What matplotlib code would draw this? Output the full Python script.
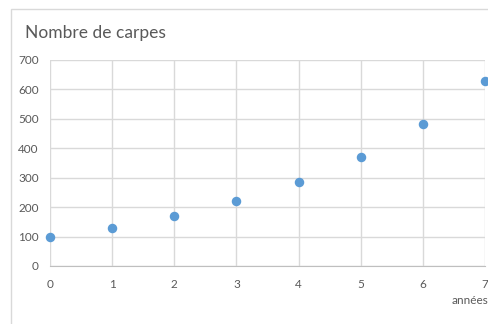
import matplotlib.pyplot as plt
from matplotlib.patches import Rectangle

annees = [0, 1, 2, 3, 4, 5, 6, 7]
carpes = [100, 130, 169, 220, 286, 371, 483, 627]
y_ticks = [0, 100, 200, 300, 400, 500, 600, 700]

plt.rcParams['font.family'] = ['Lato', 'DejaVu Sans']
W, H = 489, 324
fig = plt.figure(figsize=(W / 100, H / 100), dpi=100)

# chart frame, cut at the right and bottom edges
fig.patches.append(Rectangle((11 / W, -0.1), 1.0, 1 - 9 / H + 0.1,
                             transform=fig.transFigure, fill=False,
                             edgecolor='#d9d9d9', linewidth=1.0))

ax = fig.add_axes([50 / W, 1 - 266 / H, 435 / W, 206 / H])
ax.scatter(annees, carpes, s=34, color='#5b9bd5', zorder=3, clip_on=False)

ax.set_xlim(0, 7)
ax.set_ylim(0, 700)
ax.set_xticks(annees)
ax.set_yticks(y_ticks)
ax.grid(True, color='#d9d9d9', linewidth=1.0)
ax.set_axisbelow(True)
for side in ['top', 'right', 'left']:
    ax.spines[side].set_visible(False)
ax.spines['bottom'].set_color('#bfbfbf')
ax.tick_params(length=0, colors='#595959', labelsize=8.5)
ax.tick_params(axis='x', pad=9)
ax.tick_params(axis='y', pad=8)

fig.text(25 / W, 1 - 33 / H, 'Nombre de carpes', fontsize=12.5,
         color='#595959', va='center', ha='left')
fig.text(488 / W, 1 - 300 / H, 'années', fontsize=8.5,
         color='#595959', va='center', ha='right')

fig.savefig('out.png', dpi=100)
